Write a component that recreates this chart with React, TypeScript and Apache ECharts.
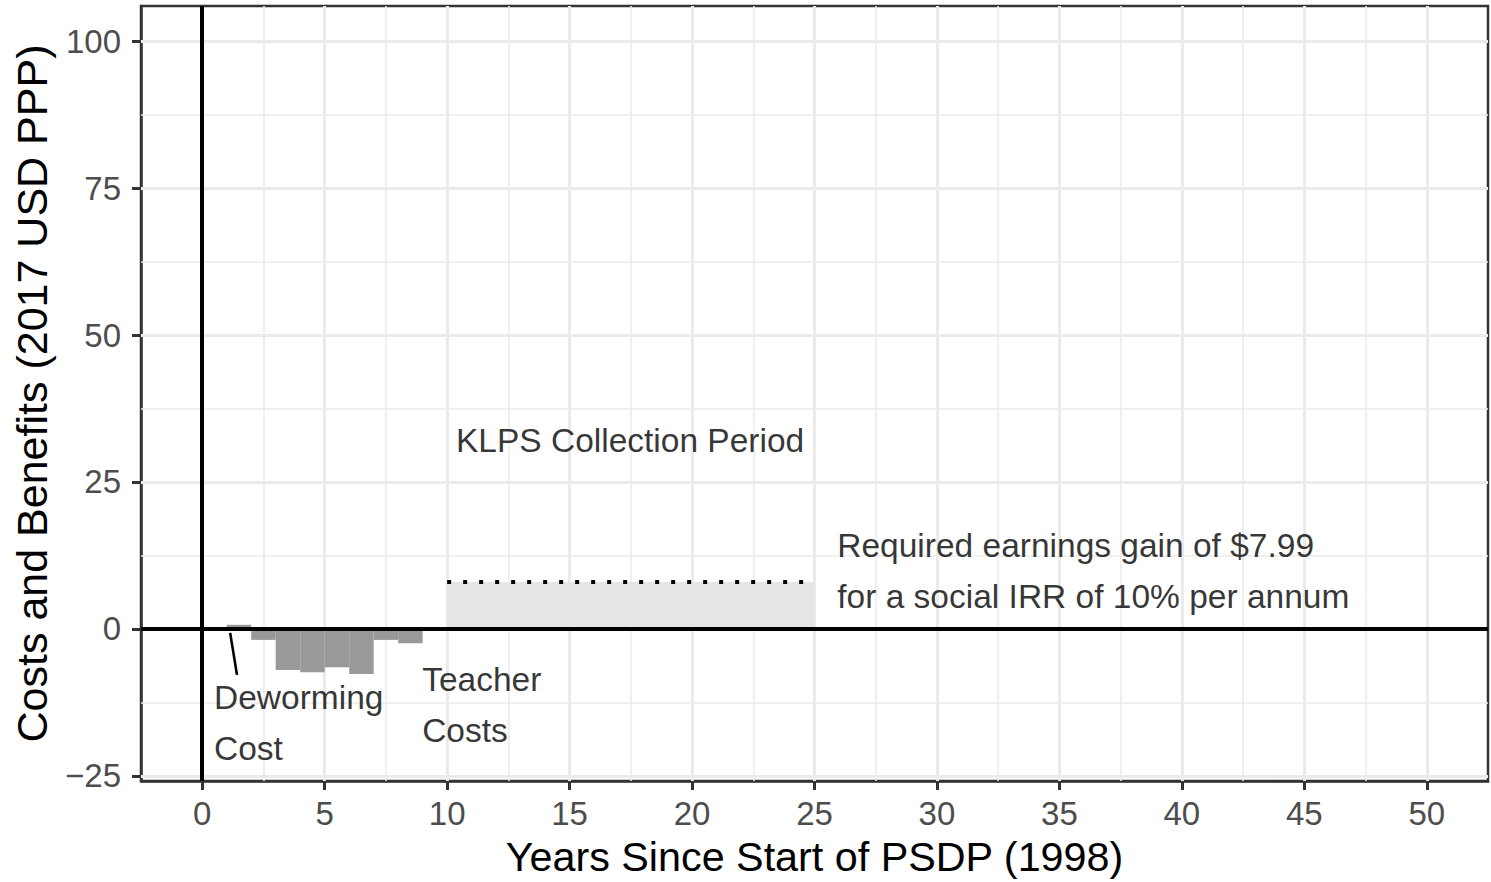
import React, { useEffect, useRef } from "react";
import * as echarts from "echarts";

// ---- data ----
const costYearStarts = [1, 2, 3, 4, 5, 6, 7, 8];
const costValues = [0.7, -1.87, -6.98, -7.38, -6.52, -7.67, -1.87, -2.44];
const klpsStart = 10;
const klpsEnd = 25;
const requiredGain = 7.99;
const xTickValues = [0, 5, 10, 15, 20, 25, 30, 35, 40, 45, 50];
const xMinorValues = [2.5, 7.5, 12.5, 17.5, 22.5, 27.5, 32.5, 37.5, 42.5, 47.5];
const yTickValues = [-25, 0, 25, 50, 75, 100];
const yMinorValues = [-12.5, 12.5, 37.5, 62.5, 87.5];
const leaderLine = [
  [1.14, -0.68],
  [1.42, -7.82],
];
const annotations = [
  { text: "KLPS Collection Period", x: 17.47, y: 32.0, align: "center" },
  { text: "Required earnings gain of $7.99\nfor a social IRR of 10% per annum", x: 25.93, y: 9.8, align: "left" },
  { text: "Teacher\nCosts", x: 8.98, y: -13.0, align: "left" },
  { text: "Deworming\nCost", x: 0.48, y: -16.0, align: "left" },
];

const FONT = "'Liberation Sans', Arial, Helvetica, sans-serif";

export default function App() {
  const ref = useRef<HTMLDivElement>(null);

  useEffect(() => {
    document.body.style.margin = "0";
    if (!ref.current) return;
    const chart = echarts.init(ref.current, null, { renderer: "svg" });

    const rectItem = (fill: string) => (params: any, api: any) => {
      const x0 = api.value(0);
      const x1 = api.value(1);
      const v = api.value(2);
      const p0 = api.coord([x0, 0]);
      const p1 = api.coord([x1, v]);
      return {
        type: "rect",
        shape: {
          x: p0[0],
          y: Math.min(p0[1], p1[1]),
          width: p1[0] - p0[0],
          height: Math.abs(p1[1] - p0[1]),
        },
        style: { fill },
      };
    };

    const costData = costYearStarts.map((s, i) => [s, s + 1, costValues[i]]);

    const gridMarkData: any[] = [
      ...xMinorValues.map((v) => ({ xAxis: v, lineStyle: { color: "#ebebeb", width: 1.6, type: "solid" } })),
      ...yMinorValues.map((v) => ({ yAxis: v, lineStyle: { color: "#ebebeb", width: 1.6, type: "solid" } })),
      ...xTickValues.map((v) => ({ xAxis: v, lineStyle: { color: "#ebebeb", width: 3, type: "solid" } })),
      ...yTickValues.map((v) => ({ yAxis: v, lineStyle: { color: "#ebebeb", width: 3, type: "solid" } })),
    ];

    const fmtMinus = (v: number) => String(v).replace("-", "\u2212");

    chart.setOption({
      animation: false,
      grid: {
        left: 141,
        right: 3,
        top: 6,
        bottom: 101,
        show: true,
        borderColor: "#333333",
        borderWidth: 2.5,
        backgroundColor: "#ffffff",
      },
      xAxis: {
        type: "value",
        min: -2.5,
        max: 52.5,
        name: "Years Since Start of PSDP (1998)",
        nameLocation: "middle",
        nameGap: 55,
        nameTextStyle: { fontSize: 41.3, color: "#000000", fontFamily: FONT },
        axisLine: { show: true, onZero: false, lineStyle: { color: "#333333", width: 2.5 } },
        splitLine: { show: false },
        axisTick: {
          show: true,
          inside: false,
          customValues: xTickValues,
          length: 9,
          lineStyle: { color: "#333333", width: 3 },
        },
        axisLabel: {
          customValues: xTickValues,
          fontSize: 33,
          color: "#4d4d4d",
          fontFamily: FONT,
          margin: 16,
        },
      },
      yAxis: {
        type: "value",
        min: -25.88,
        max: 105.99,
        name: "Costs and Benefits (2017 USD PPP)",
        nameLocation: "middle",
        nameGap: 88,
        nameTextStyle: { fontSize: 43, color: "#000000", fontFamily: FONT },
        axisLine: { show: true, onZero: false, lineStyle: { color: "#333333", width: 2.5 } },
        splitLine: { show: false },
        axisTick: {
          show: true,
          inside: false,
          customValues: yTickValues,
          length: 9,
          lineStyle: { color: "#333333", width: 3 },
        },
        axisLabel: {
          customValues: yTickValues,
          fontSize: 33,
          color: "#4d4d4d",
          fontFamily: FONT,
          margin: 20,
          formatter: (v: number) => fmtMinus(v),
        },
      },
      series: [
        {
          name: "grid",
          type: "line",
          data: [],
          silent: true,
          z: 1,
          markLine: {
            silent: true,
            symbol: "none",
            z: 1,
            label: { show: false },
            data: gridMarkData,
          },
        },
        {
          name: "klps",
          type: "custom",
          z: 2,
          clip: true,
          encode: { x: [0, 1], y: 2 },
          renderItem: rectItem("#e5e5e5"),
          data: [[klpsStart, klpsEnd, requiredGain]],
        },
        {
          name: "costs",
          type: "custom",
          z: 3,
          clip: true,
          encode: { x: [0, 1], y: 2 },
          renderItem: rectItem("#999999"),
          data: costData,
        },
        {
          name: "required",
          type: "line",
          z: 4,
          symbol: "none",
          silent: true,
          data: [
            [klpsStart, requiredGain],
            [klpsEnd, requiredGain],
          ],
          lineStyle: { color: "#000000", width: 4, type: [4, 12], cap: "butt" },
        },
        {
          name: "zero",
          type: "line",
          data: [],
          silent: true,
          z: 6,
          markLine: {
            silent: true,
            symbol: "none",
            z: 6,
            label: { show: false },
            data: [
              { xAxis: 0, lineStyle: { color: "#000000", width: 4, type: "solid" } },
              { yAxis: 0, lineStyle: { color: "#000000", width: 4, type: "solid" } },
            ],
          },
        },
        {
          name: "leader",
          type: "line",
          z: 7,
          symbol: "none",
          silent: true,
          data: leaderLine,
          lineStyle: { color: "#000000", width: 2.6 },
        },
        {
          name: "labels",
          type: "scatter",
          z: 8,
          symbolSize: 0,
          silent: true,
          data: annotations.map((a) => ({
            value: [a.x, a.y],
            label: {
              show: true,
              formatter: a.text,
              position: [0, 0],
              align: a.align,
              verticalAlign: "middle",
              fontSize: 33.5,
              lineHeight: 51,
              color: "#000000",
              fontFamily: FONT,
            },
          })),
        },
      ],
    });

    return () => chart.dispose();
  }, []);

  return <div ref={ref} style={{ width: 1491, height: 882 }} />;
}
